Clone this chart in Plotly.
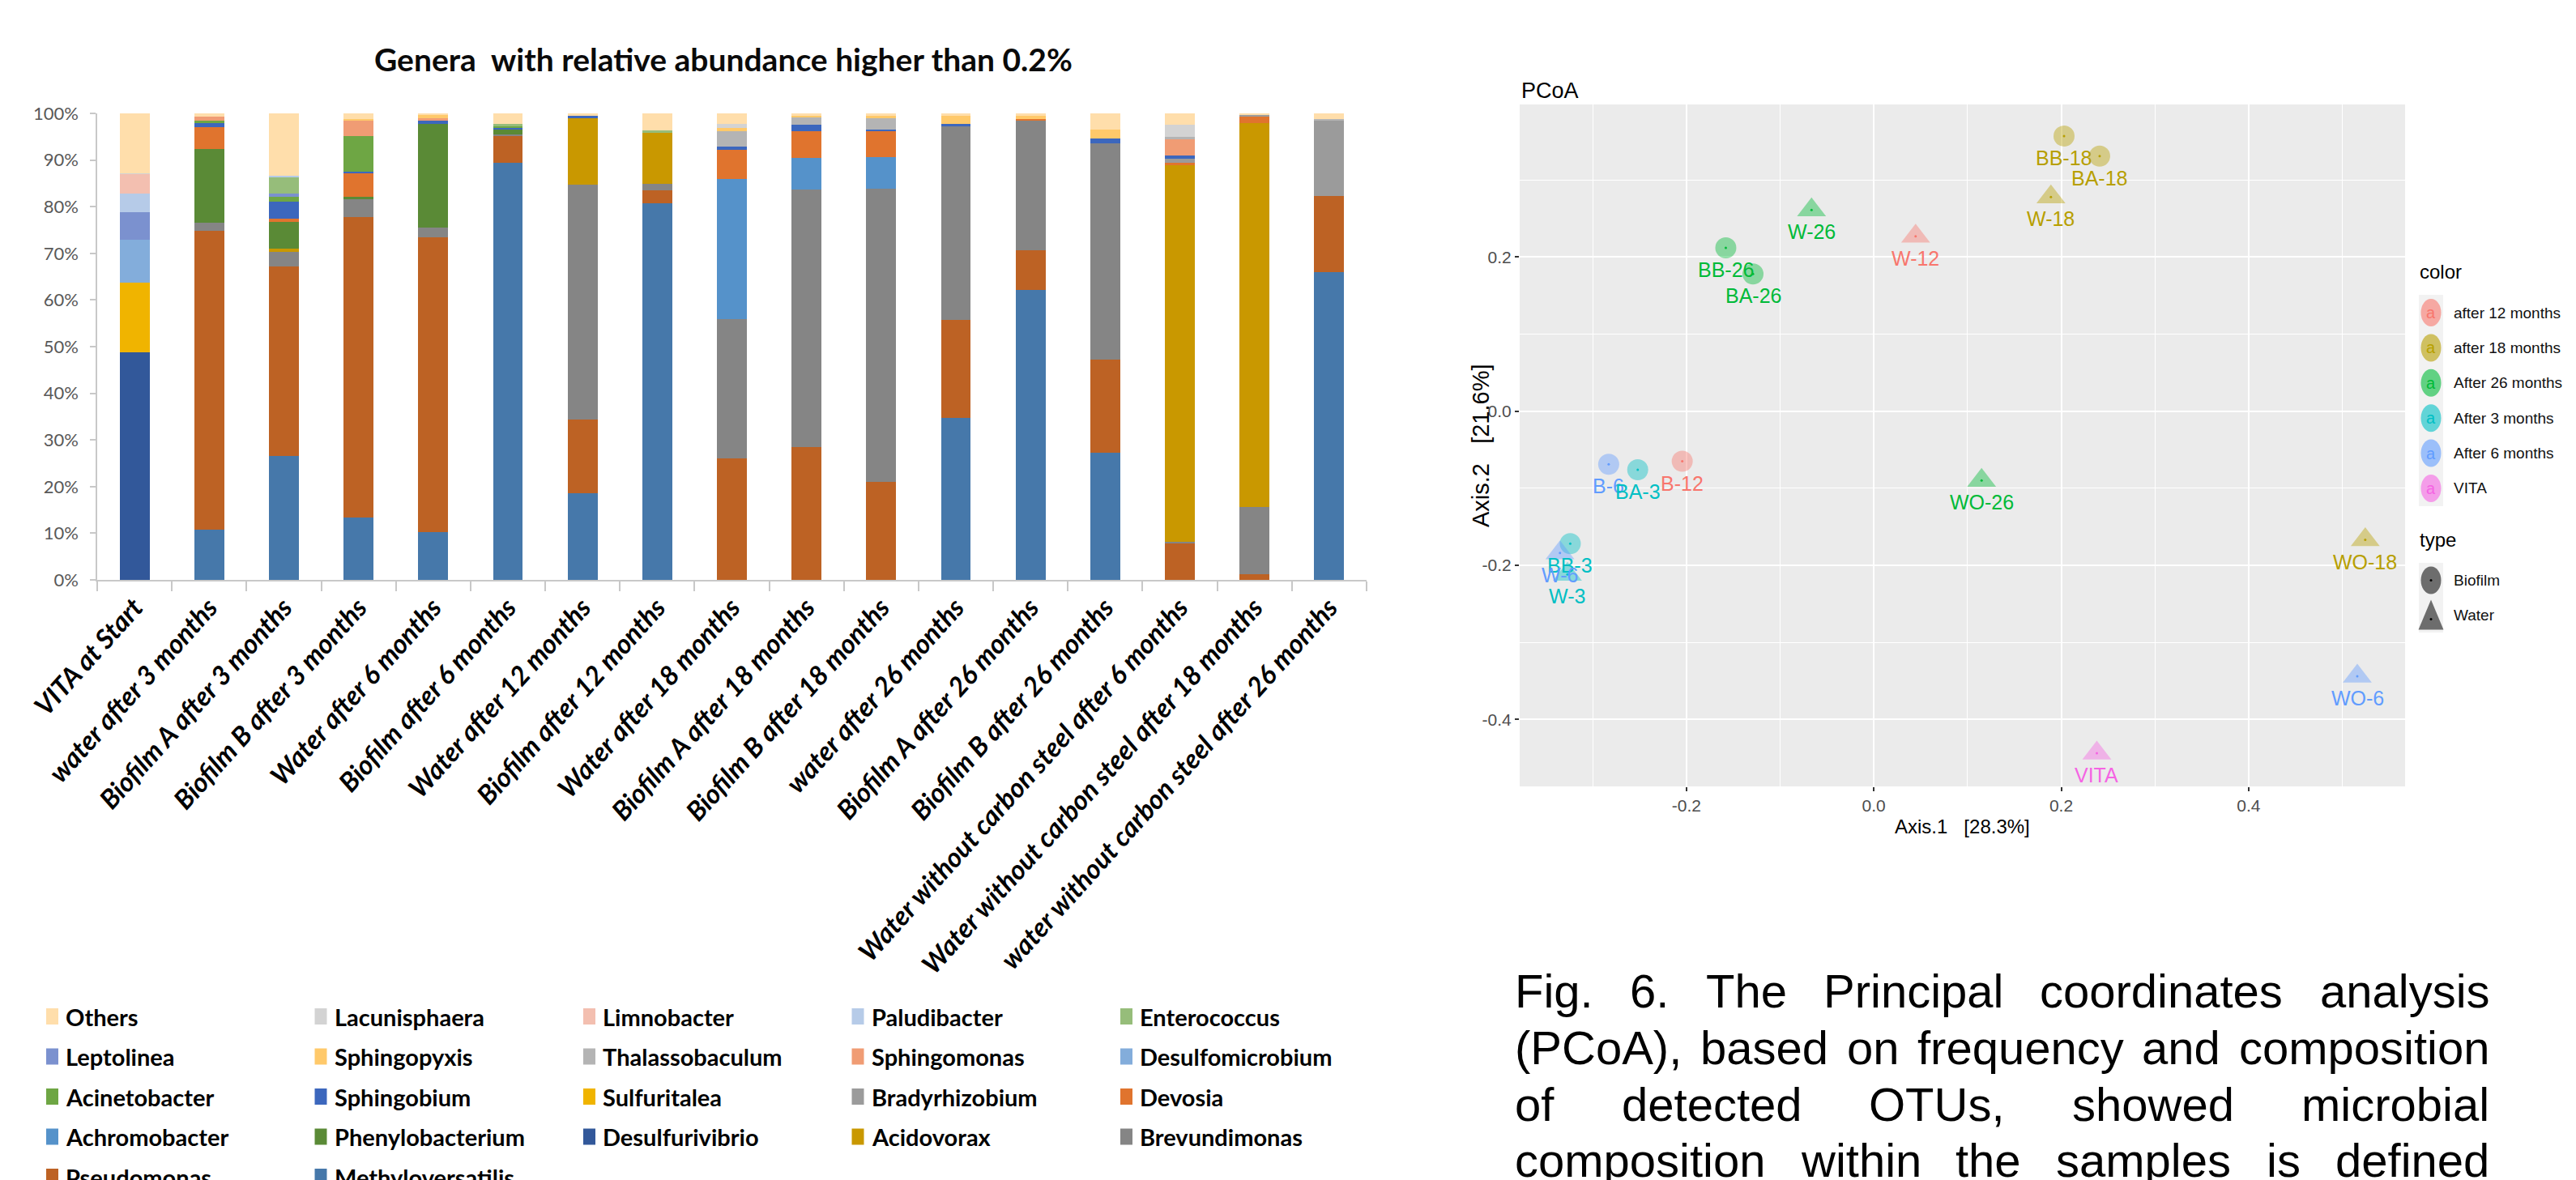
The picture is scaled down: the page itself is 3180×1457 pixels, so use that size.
import plotly.graph_objects as go

W, H = 3180, 1457

# ---------------- Stacked bar data (percent) ----------------
samples = ["VITA at Start", "water after 3 months", "Biofilm A after 3 months", "Biofilm B after 3 months",
           "Water after 6 months", "Biofilm after 6 months", "Water after 12 months", "Biofilm after 12 months",
           "Water after 18 months", "Biofilm A after 18 months", "Biofilm B after 18 months",
           "water after 26 months", "Biofilm A after 26 months", "Biofilm B after 26 months",
           "Water without carbon steel after 6 months", "Water without carbon steel after 18 months",
           "water without carbon steel after 26 months"]

methyloversatilis = [0, 10.8, 26.5, 13.3, 10.2, 89.4, 18.6, 80.7, 0, 0, 0, 34.7, 62.2, 27.3, 0, 0, 65.9]
pseudomonas       = [0, 64.0, 40.7, 64.5, 63.3, 5.7, 15.7, 2.8, 26.1, 28.4, 21.0, 21.0, 8.5, 20.0, 7.9, 1.2, 16.4]
brevundimonas     = [0, 1.8, 3.1, 3.8, 2.0, 0.4, 50.5, 1.4, 29.8, 55.3, 62.9, 41.5, 27.8, 46.3, 0.2, 14.4, 0]
acidovorax        = [0, 0, 0.7, 0, 0, 0, 14.3, 11.0, 0, 0, 0, 0, 0, 0, 80.8, 82.4, 0]
desulfurivibrio   = [48.8, 0, 0, 0, 0, 0, 0, 0, 0, 0, 0, 0, 0, 0, 0, 0, 0]
phenylobacterium  = [0, 15.7, 5.8, 0.5, 22.3, 1.0, 0, 0, 0, 0, 0, 0, 0, 0, 0, 0, 0]
achromobacter     = [0, 0, 0, 0, 0, 0, 0, 0, 30.0, 6.7, 6.7, 0, 0, 0, 0, 0, 0]
devosia           = [0, 4.8, 0.6, 5.1, 0, 0, 0, 0, 6.3, 5.7, 5.5, 0, 0.3, 0, 0.5, 1.4, 0]
bradyrhizobium    = [0, 0, 0, 0, 0, 0, 0, 0, 0, 0, 0, 0, 0, 0, 0.8, 0.3, 16.2]
sulfuritalea      = [15.0, 0, 0, 0, 0, 0, 0, 0, 0, 0, 0, 0, 0, 0, 0, 0, 0]
sphingobium       = [0, 0.8, 3.6, 0.3, 0.6, 0.4, 0.3, 0, 0.6, 1.4, 0.4, 0.5, 0, 1.1, 0.8, 0, 0]
acinetobacter     = [0, 0.5, 1.1, 7.7, 0, 0.3, 0, 0, 0, 0, 0, 0, 0, 0, 0, 0, 0]
desulfomicrobium  = [9.2, 0, 0, 0, 0, 0, 0, 0, 0, 0, 0, 0, 0, 0, 0, 0, 0]
sphingomonas      = [0, 0.9, 0, 3.2, 0.6, 0, 0, 0, 0, 0, 0, 0, 0, 0, 3.4, 0, 0]
thalassobaculum   = [0, 0, 0, 0, 0, 0, 0, 0, 3.3, 1.6, 2.5, 0, 0, 0, 0.5, 0, 0.3]
sphingopyxis      = [0, 0, 0, 0.4, 0.7, 0, 0, 0, 0.7, 0.4, 0.4, 1.8, 0.7, 1.9, 0, 0, 0]
leptolinea        = [5.9, 0, 0.7, 0, 0, 0, 0, 0, 0, 0, 0, 0, 0, 0, 0, 0, 0]
enterococcus      = [0, 0, 3.5, 0, 0, 0.6, 0, 0.4, 0, 0, 0, 0, 0, 0, 0, 0, 0]
paludibacter      = [4.0, 0, 0.4, 0, 0, 0, 0, 0, 0, 0, 0, 0, 0, 0, 0, 0, 0]
limnobacter       = [4.1, 0, 0, 0, 0, 0, 0, 0, 0, 0, 0, 0, 0, 0, 0, 0, 0]
lacunisphaera     = [0.2, 0, 0, 0, 0, 0, 0, 0, 1.0, 0, 0, 0, 0, 0, 2.7, 0, 0]
others            = [12.8, 0.7, 13.3, 1.2, 0.3, 2.2, 0.6, 3.7, 2.2, 0.5, 0.6, 0.5, 0.5, 3.4, 2.4, 0.3, 1.2]

genera = [("Methyloversatilis", methyloversatilis), ("Pseudomonas", pseudomonas),
          ("Brevundimonas", brevundimonas), ("Acidovorax", acidovorax),
          ("Desulfurivibrio", desulfurivibrio), ("Phenylobacterium", phenylobacterium),
          ("Achromobacter", achromobacter), ("Devosia", devosia),
          ("Bradyrhizobium", bradyrhizobium), ("Sulfuritalea", sulfuritalea),
          ("Sphingobium", sphingobium), ("Acinetobacter", acinetobacter),
          ("Desulfomicrobium", desulfomicrobium), ("Sphingomonas", sphingomonas),
          ("Thalassobaculum", thalassobaculum), ("Sphingopyxis", sphingopyxis),
          ("Leptolinea", leptolinea), ("Enterococcus", enterococcus),
          ("Paludibacter", paludibacter), ("Limnobacter", limnobacter),
          ("Lacunisphaera", lacunisphaera), ("Others", others)]

genus_colors = {
    "Methyloversatilis": "#4678AA", "Pseudomonas": "#BD6224", "Brevundimonas": "#858585",
    "Acidovorax": "#C99800", "Desulfurivibrio": "#32589A", "Phenylobacterium": "#5A8A36",
    "Achromobacter": "#5592CA", "Devosia": "#E0742E", "Bradyrhizobium": "#9B9B9B",
    "Sulfuritalea": "#F0B400", "Sphingobium": "#3C67BD", "Acinetobacter": "#6EA644",
    "Desulfomicrobium": "#83ADDB", "Sphingomonas": "#F09C74", "Thalassobaculum": "#B4B4B4",
    "Sphingopyxis": "#FFC96A", "Leptolinea": "#7B91CF", "Enterococcus": "#96BD7A",
    "Paludibacter": "#B6CBE8", "Limnobacter": "#F3BFB0", "Lacunisphaera": "#D3D3D3",
    "Others": "#FFDEAB"}

# ---------------- PCoA data ----------------
pc_labels = ["BB-18", "BA-18", "W-18", "W-26", "W-12", "BB-26", "BA-26", "B-6", "BA-3", "B-12",
             "WO-26", "BB-3", "W-6", "W-3", "VITA", "WO-18", "WO-6"]
pc_axis1 = [0.203, 0.241, 0.189, -0.0665, 0.0446, -0.158, -0.129, -0.283, -0.252, -0.2045,
            0.115, -0.324, -0.335, -0.327, 0.238, 0.5245, 0.516]
pc_axis2 = [0.357, 0.331, 0.278, 0.261, 0.227, 0.212, 0.178, -0.069, -0.076, -0.065,
            -0.090, -0.172, -0.184, -0.212, -0.444, -0.167, -0.344]
pc_color = ["after 18 months", "after 18 months", "after 18 months", "After 26 months", "after 12 months",
            "After 26 months", "After 26 months", "After 6 months", "After 3 months", "after 12 months",
            "After 26 months", "After 3 months", "After 6 months", "After 3 months", "VITA",
            "after 18 months", "After 6 months"]
pc_type = ["Biofilm", "Biofilm", "Water", "Water", "Water", "Biofilm", "Biofilm", "Biofilm", "Biofilm",
           "Biofilm", "Water", "Biofilm", "Water", "Water", "Water", "Water", "Water"]
color_levels = ["after 12 months", "after 18 months", "After 26 months", "After 3 months",
                "After 6 months", "VITA"]
type_levels = ["Biofilm", "Water"]

hue = {"after 12 months": (248, 118, 109), "after 18 months": (183, 159, 0),
       "After 26 months": (0, 186, 56), "After 3 months": (0, 191, 196),
       "After 6 months": (97, 156, 255), "VITA": (245, 100, 227)}

caption_lines = ["Fig. 6. The Principal coordinates analysis",
                 "(PCoA), based on frequency and composition",
                 "of detected OTUs, showed microbial",
                 "composition within the samples is defined"]

# ---------------- helpers ----------------
BARFONT = "Lato, Carlito, Calibri, sans-serif"
ARIAL = "Liberation Sans, Arial, sans-serif"


def px(x):
    return x / W


def py(y):
    return 1 - y / H


def rgba(c, a):
    return "rgba(%d,%d,%d,%.2f)" % (c[0], c[1], c[2], a)


def hexc(c):
    return "#%02X%02X%02X" % c


fig = go.Figure()

# bars
for name, vals in genera:
    fig.add_trace(go.Bar(x=samples, y=vals, name=name, showlegend=False,
                         marker=dict(color=genus_colors[name], line=dict(width=0)),
                         xaxis="x", yaxis="y"))

# PCoA points
sym = ["circle" if t == "Biofilm" else "triangle-up" for t in pc_type]
sizes = [26 if t == "Biofilm" else 31 for t in pc_type]
fig.add_trace(go.Scatter(x=pc_axis1, y=pc_axis2, mode="markers", showlegend=False,
                         marker=dict(symbol=sym, size=sizes,
                                     color=[rgba(hue[c], 0.6) for c in pc_color], line=dict(width=0)),
                         xaxis="x2", yaxis="y2"))
fig.add_trace(go.Scatter(x=pc_axis1, y=pc_axis2, mode="markers", showlegend=False,
                         marker=dict(symbol="circle", size=3,
                                     color=[hexc(hue[c]) for c in pc_color], line=dict(width=0)),
                         xaxis="x2", yaxis="y2"))

annotations = []
shapes = []

# point labels
for lab, xv, yv, c in zip(pc_labels, pc_axis1, pc_axis2, pc_color):
    annotations.append(dict(x=xv, y=yv, xref="x2", yref="y2", text=lab, showarrow=False,
                            yshift=-27, xanchor="center", yanchor="middle",
                            font=dict(family=ARIAL, size=25, color=hexc(hue[c]))))

# panel background
shapes.append(dict(type="rect", xref="x2 domain", yref="y2 domain", x0=0, x1=1, y0=0, y1=1,
                   fillcolor="#EBEBEB", line=dict(width=0), layer="below"))

# bar chart title
annotations.append(dict(x=px(893), y=py(73), xref="paper", yref="paper", showarrow=False,
                        text="Genera\u00a0 with relative abundance higher than 0.2%",
                        xanchor="center", yanchor="middle",
                        font=dict(family=BARFONT, size=39, color="#0A0A0A", weight="bold")))

# bar chart legend (reading order = top of stack first)
legend_order = [g[0] for g in genera][::-1]
for i, name in enumerate(legend_order):
    col, row = i % 5, i // 5
    x0 = 57 + col * 331.5
    yc = 1255 + row * 49.5
    shapes.append(dict(type="rect", xref="paper", yref="paper", x0=px(x0), x1=px(x0 + 15),
                       y0=py(yc + 10), y1=py(yc - 10), fillcolor=genus_colors[name],
                       line=dict(width=0)))
    annotations.append(dict(x=px(x0 + 22), y=py(yc), xref="paper", yref="paper", showarrow=False,
                            text=name, xanchor="left", yanchor="middle",
                            font=dict(family=BARFONT, size=29, color="#000000", weight="bold")))

# PCoA title & axis titles
annotations.append(dict(x=px(1876), y=py(112), xref="paper", yref="paper", showarrow=False,
                        text="PCoA", xanchor="left", yanchor="middle",
                        font=dict(family=ARIAL, size=27, color="#000000")))
annotations.append(dict(x=px(2422), y=py(1020), xref="paper", yref="paper", showarrow=False,
                        text="Axis.1\u00a0\u00a0\u00a0[28.3%]", xanchor="center", yanchor="middle",
                        font=dict(family=ARIAL, size=24, color="#000000")))
annotations.append(dict(x=px(1828), y=py(550), xref="paper", yref="paper", showarrow=False,
                        text="Axis.2\u00a0\u00a0\u00a0[21.6%]", xanchor="center", yanchor="middle",
                        textangle=-90, font=dict(family=ARIAL, size=29, color="#000000")))

# PCoA legend: color
annotations.append(dict(x=px(2985), y=py(336), xref="paper", yref="paper", showarrow=False,
                        text="color", xanchor="left", yanchor="middle",
                        font=dict(family=ARIAL, size=24, color="#000000")))
shapes.append(dict(type="rect", xref="paper", yref="paper", x0=px(2986), x1=px(3016),
                   y0=py(364), y1=py(625), fillcolor="#F2F2F2", line=dict(width=0)))
for i, lev in enumerate(color_levels):
    yc = 386 + i * 43.4
    shapes.append(dict(type="circle", xref="paper", yref="paper", x0=px(2988.5), x1=px(3013.5),
                       y0=py(yc + 17), y1=py(yc - 17), fillcolor=rgba(hue[lev], 0.6),
                       line=dict(width=0)))
    annotations.append(dict(x=px(3001), y=py(yc), xref="paper", yref="paper", showarrow=False,
                            text="a", xanchor="center", yanchor="middle",
                            font=dict(family=ARIAL, size=20, color=hexc(hue[lev]))))
    annotations.append(dict(x=px(3027), y=py(yc), xref="paper", yref="paper", showarrow=False,
                            text=lev, xanchor="left", yanchor="middle",
                            font=dict(family=ARIAL, size=19, color="#111111")))

# PCoA legend: type
annotations.append(dict(x=px(2985), y=py(667), xref="paper", yref="paper", showarrow=False,
                        text="type", xanchor="left", yanchor="middle",
                        font=dict(family=ARIAL, size=24, color="#000000")))
shapes.append(dict(type="rect", xref="paper", yref="paper", x0=px(2986), x1=px(3016),
                   y0=py(695), y1=py(781), fillcolor="#F2F2F2", line=dict(width=0)))
for i, lev in enumerate(type_levels):
    yc = 716.5 + i * 43
    if lev == "Biofilm":
        shapes.append(dict(type="circle", xref="paper", yref="paper", x0=px(2988.5), x1=px(3013.5),
                           y0=py(yc + 17), y1=py(yc - 17), fillcolor="rgba(0,0,0,0.55)",
                           line=dict(width=0)))
    else:
        path = "M %f,%f L %f,%f L %f,%f Z" % (px(2985.5), py(yc + 18), px(3016.5), py(yc + 18),
                                             px(3001), py(yc - 19))
        shapes.append(dict(type="path", xref="paper", yref="paper", path=path,
                           fillcolor="rgba(0,0,0,0.55)", line=dict(width=0)))
    shapes.append(dict(type="circle", xref="paper", yref="paper", x0=px(2999.5), x1=px(3002.5),
                       y0=py(yc + 1.5 + (5 if lev == "Water" else 0)),
                       y1=py(yc - 1.5 + (5 if lev == "Water" else 0)),
                       fillcolor="#000000", line=dict(width=0)))
    annotations.append(dict(x=px(3027), y=py(yc), xref="paper", yref="paper", showarrow=False,
                            text=lev, xanchor="left", yanchor="middle",
                            font=dict(family=ARIAL, size=19, color="#111111")))

# caption (justified), Arial metrics
CW = {' ': 278, '.': 278, ',': 278, '(': 333, ')': 333, '-': 333, '%': 889}
for ch in "0123456789":
    CW[ch] = 556
CW.update(dict(zip("abcdefghijklmnopqrstuvwxyz",
                   [556, 556, 500, 556, 556, 278, 556, 556, 222, 222, 500, 222, 833, 556, 556, 556,
                    556, 333, 500, 278, 556, 500, 722, 500, 500, 500])))
CW.update(dict(zip("ABCDEFGHIJKLMNOPQRSTUVWXYZ",
                   [667, 667, 722, 722, 667, 611, 778, 722, 278, 500, 667, 556, 833, 722, 778, 667,
                    778, 722, 667, 611, 722, 667, 944, 667, 667, 611])))
CAP_F = 58
cap_left, cap_right = 1869, 3072
cap_centers = [1223, 1293, 1363, 1432]
for line, yc in zip(caption_lines, cap_centers):
    words = line.split(" ")
    widths = [sum(CW.get(c, 556) for c in w) * CAP_F / 1000 for w in words]
    gap = (cap_right - cap_left - sum(widths)) / (len(words) - 1)
    xcur = cap_left
    for w, wd in zip(words, widths):
        annotations.append(dict(x=px(xcur), y=py(yc), xref="paper", yref="paper", showarrow=False,
                                text=w, xanchor="left", yanchor="middle", borderpad=0,
                                font=dict(family=ARIAL, size=CAP_F, color="#000000")))
        xcur += wd + gap

fig.update_layout(
    width=W, height=H, autosize=False,
    margin=dict(l=0, r=0, t=0, b=0, pad=0),
    paper_bgcolor="white", plot_bgcolor="rgba(0,0,0,0)",
    barmode="stack", bargap=0.6, showlegend=False,
    xaxis=dict(domain=[px(120), px(1687)], anchor="y", type="category", automargin=False,
               showline=True, linecolor="#C8C8C8", linewidth=1.5, showgrid=False, zeroline=False,
               ticks="outside", tickson="boundaries", ticklen=12, tickcolor="#C8C8C8", tickwidth=1.5,
               tickangle=-48,
               tickfont=dict(family=BARFONT, size=33, color="#000000", weight="bold", style="italic")),
    yaxis=dict(domain=[py(716), py(140)], anchor="x", range=[0, 100], automargin=False,
               tickmode="linear", tick0=0, dtick=10, ticksuffix="%",
               showline=True, linecolor="#C8C8C8", linewidth=1.5, showgrid=False, zeroline=False,
               ticks="outside", ticklen=7, tickcolor="#C8C8C8", tickwidth=1.5, ticklabelstandoff=10,
               tickfont=dict(family=BARFONT, size=22, color="#595959")),
    xaxis2=dict(domain=[px(1876), px(2969)], anchor="y2", range=[-0.378, 0.567], automargin=False,
                tickvals=[-0.2, 0.0, 0.2, 0.4], ticktext=["-0.2", "0.0", "0.2", "0.4"],
                showgrid=True, gridcolor="#FFFFFF", gridwidth=2, zeroline=False, showline=False,
                ticks="outside", ticklen=5, tickcolor="#333333", tickwidth=1.5,
                minor=dict(tickvals=[-0.3, -0.1, 0.1, 0.3, 0.5], showgrid=True, gridcolor="#FFFFFF",
                           gridwidth=1, ticks=""),
                tickfont=dict(family=ARIAL, size=21, color="#4D4D4D")),
    yaxis2=dict(domain=[py(971), py(129)], anchor="x2", range=[-0.487, 0.398], automargin=False,
                tickvals=[-0.4, -0.2, 0.0, 0.2], ticktext=["-0.4", "-0.2", "0.0", "0.2"],
                showgrid=True, gridcolor="#FFFFFF", gridwidth=2, zeroline=False, showline=False,
                ticks="outside", ticklen=5, tickcolor="#333333", tickwidth=1.5,
                minor=dict(tickvals=[-0.3, -0.1, 0.1, 0.3], showgrid=True, gridcolor="#FFFFFF",
                           gridwidth=1, ticks=""),
                tickfont=dict(family=ARIAL, size=21, color="#4D4D4D")),
    annotations=annotations, shapes=shapes,
)

fig.write_html("out.html", config={"displayModeBar": False},
               post_script="document.body.style.margin='0';document.body.style.overflow='hidden';")
